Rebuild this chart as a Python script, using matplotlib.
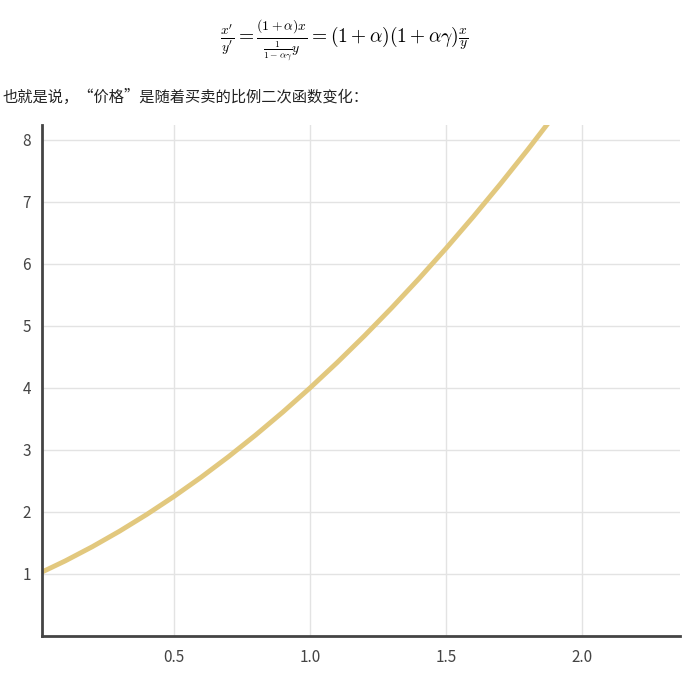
import matplotlib
matplotlib.use("Agg")
import matplotlib.pyplot as plt

plt.rcParams['font.family'] = ['Noto Sans CJK SC', 'DejaVu Sans']
plt.rcParams['mathtext.fontset'] = 'cm'

x_vals = [0.0, 0.1, 0.2, 0.3, 0.4, 0.5, 0.6, 0.7, 0.8, 0.9, 1.0, 1.1, 1.2, 1.3, 1.4, 1.5, 1.6, 1.7, 1.8, 1.9]
y_vals = [1.0, 1.21, 1.44, 1.69, 1.96, 2.25, 2.56, 2.89, 3.24, 3.61, 4.0, 4.41, 4.84, 5.29, 5.76, 6.25, 6.76, 7.29, 7.84, 8.41]
x_ticks = [0.5, 1.0, 1.5, 2.0]
y_ticks = [1, 2, 3, 4, 5, 6, 7, 8]

fig = plt.figure(figsize=(6.89, 6.75), dpi=100)
fig.text(0.5, 0.94, r"$\frac{x'}{y'} = \frac{(1+\alpha)x}{\frac{1}{1-\alpha\gamma}y} = (1+\alpha)(1+\alpha\gamma)\frac{x}{y}$",
         ha='center', va='center', fontsize=14)
fig.text(0.003, 0.855, "也就是说，“价格”是随着买卖的比例二次函数变化：", ha='left', va='center', fontsize=11, color='#222222')

ax = fig.add_axes([42/689, 1-636/675, (680-42)/689, (636-125)/675])
ax.plot(x_vals, y_vals, color='#e2c87e', lw=3.5, solid_capstyle='round')
ax.set_xlim(0.015, 2.36)
ax.set_ylim(0, 8.24)
ax.set_xticks(x_ticks)
ax.set_xticklabels(['0.5', '1.0', '1.5', '2.0'])
ax.set_yticks(y_ticks)
ax.grid(True, color='#e3e3e3', lw=1)
ax.set_axisbelow(True)
for s in ['top', 'right']:
    ax.spines[s].set_visible(False)
for s in ['left', 'bottom']:
    ax.spines[s].set_color('#444444')
    ax.spines[s].set_linewidth(2)
ax.tick_params(length=0, labelsize=11, colors='#444444', pad=9)
ax.tick_params(axis='y', pad=8)

fig.savefig("out.png", dpi=100)
